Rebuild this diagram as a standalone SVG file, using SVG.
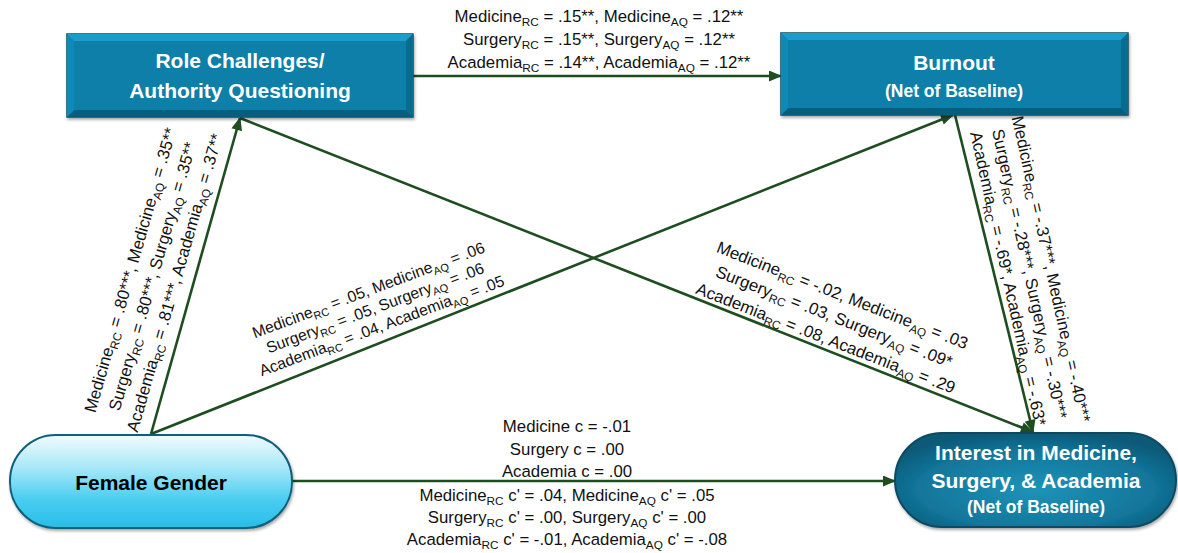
<svg xmlns="http://www.w3.org/2000/svg" width="1178" height="553" viewBox="0 0 1178 553">
<style>
.lbl{font-family:"Liberation Sans",Arial,sans-serif;font-size:16.8px;fill:#111;text-anchor:middle}
.sub{font-size:11.8px}
.sm{font-size:15.8px}
.sm .sub{font-size:11px}
.ttl{font-family:"Liberation Sans",Arial,sans-serif;font-weight:bold;font-size:21px;fill:#fff;text-anchor:middle}
.net{font-size:17.5px}
.edge{stroke:#1e4d20;stroke-width:2.6;fill:none;marker-end:url(#ah)}
</style>
<defs>
<marker id="ah" viewBox="0 0 12 10" refX="11" refY="5" markerWidth="14" markerHeight="11" markerUnits="userSpaceOnUse" orient="auto">
<path d="M0,0 L12,5 L0,10 z" fill="#1e4d20"/>
</marker>
<linearGradient id="fem" x1="0" y1="0" x2="0" y2="1">
<stop offset="0" stop-color="#f2fbfe"/>
<stop offset="0.35" stop-color="#a8e8f8"/>
<stop offset="0.7" stop-color="#48cdf0"/>
<stop offset="1" stop-color="#27bde8"/>
</linearGradient>
<radialGradient id="int" cx="0.5" cy="0.6" r="0.6">
<stop offset="0" stop-color="#1f93b8"/>
<stop offset="0.7" stop-color="#12759a"/>
<stop offset="1" stop-color="#0b5a78"/>
</radialGradient>
<filter id="sh" x="-5%" y="-10%" width="110%" height="125%">
<feDropShadow dx="1" dy="2" stdDeviation="1.5" flood-color="#000" flood-opacity="0.35"/>
</filter>
</defs>

<g id="connectors">
<line class="edge" x1="413" y1="76" x2="781" y2="76"/>
<line class="edge" x1="151" y1="434" x2="240" y2="118"/>
<line class="edge" x1="151" y1="434" x2="953" y2="115"/>
<line class="edge" x1="240" y1="118" x2="1033" y2="432"/>
<line class="edge" x1="955" y1="115" x2="1033" y2="432"/>
<line class="edge" x1="292" y1="481" x2="895" y2="481"/>
</g>

<g id="role">
<g filter="url(#sh)">
<rect x="67" y="34" width="346" height="83" fill="#0a7fa9" stroke="#0c4c62" stroke-width="1.5"/>
</g>
<polygon points="67,34 413,34 406,41 74,41" fill="#1c9ccb"/>
<polygon points="67,117 413,117 406,110 74,110" fill="#055e7e"/>
<polygon points="67,34 74,41 74,110 67,117" fill="#0d8ab6"/>
<polygon points="413,34 406,41 406,110 413,117" fill="#066c90"/>
<text class="ttl" x="240" y="68">Role Challenges/</text>
<text class="ttl" x="240" y="98">Authority Questioning</text>
</g>

<g id="burnout">
<g filter="url(#sh)">
<rect x="781" y="33" width="347" height="82" fill="#0a7fa9" stroke="#0c4c62" stroke-width="1.5"/>
</g>
<polygon points="781,33 1128,33 1121,40 788,40" fill="#1c9ccb"/>
<polygon points="781,115 1128,115 1121,108 788,108" fill="#055e7e"/>
<polygon points="781,33 788,40 788,108 781,115" fill="#0d8ab6"/>
<polygon points="1128,33 1121,40 1121,108 1128,115" fill="#066c90"/>
<text class="ttl" x="954" y="70">Burnout</text>
<text class="ttl net" x="954" y="97">(Net of Baseline)</text>
</g>

<g id="female">
<rect x="10" y="435" width="282" height="93" rx="46" ry="46" fill="url(#fem)" stroke="#0f5f7a" stroke-width="2" filter="url(#sh)"/>
<text class="ttl" x="151" y="490" style="fill:#000">Female Gender</text>
</g>

<g id="interest">
<rect x="895" y="433" width="281" height="94" rx="47" ry="47" fill="url(#int)" stroke="#0a4a60" stroke-width="2" filter="url(#sh)"/>
<text class="ttl" x="1036" y="460">Interest in Medicine,</text>
<text class="ttl" x="1036" y="488">Surgery, &amp; Academia</text>
<text class="ttl net" x="1036" y="513">(Net of Baseline)</text>
</g>

<g id="labels">
<g>
<text class="lbl" x="599" y="22">Medicine<tspan class="sub" dy="4">RC</tspan><tspan dy="-4"> = .15**, Medicine</tspan><tspan class="sub" dy="4">AQ</tspan><tspan dy="-4"> = .12**</tspan></text>
<text class="lbl" x="599" y="45">Surgery<tspan class="sub" dy="4">RC</tspan><tspan dy="-4"> = .15**, Surgery</tspan><tspan class="sub" dy="4">AQ</tspan><tspan dy="-4"> = .12**</tspan></text>
<text class="lbl" x="599" y="68">Academia<tspan class="sub" dy="4">RC</tspan><tspan dy="-4"> = .14**, Academia</tspan><tspan class="sub" dy="4">AQ</tspan><tspan dy="-4"> = .12**</tspan></text>
</g>
<g transform="translate(158,278) rotate(-74)">
<text class="lbl" x="0" y="-23">Medicine<tspan class="sub" dy="4">RC</tspan><tspan dy="-4"> = .80***, Medicine</tspan><tspan class="sub" dy="4">AQ</tspan><tspan dy="-4"> = .35**</tspan></text>
<text class="lbl" x="0" y="0">Surgery<tspan class="sub" dy="4">RC</tspan><tspan dy="-4"> = .80***, Surgery</tspan><tspan class="sub" dy="4">AQ</tspan><tspan dy="-4"> = .35**</tspan></text>
<text class="lbl" x="0" y="23">Academia<tspan class="sub" dy="4">RC</tspan><tspan dy="-4"> = .81***, Academia</tspan><tspan class="sub" dy="4">AQ</tspan><tspan dy="-4"> = .37**</tspan></text>
</g>
<g transform="translate(377,313) rotate(-20.5)">
<text class="lbl sm" x="0" y="-19">Medicine<tspan class="sub" dy="4">RC</tspan><tspan dy="-4"> = .05, Medicine</tspan><tspan class="sub" dy="4">AQ</tspan><tspan dy="-4"> = .06</tspan></text>
<text class="lbl sm" x="0" y="0">Surgery<tspan class="sub" dy="4">RC</tspan><tspan dy="-4"> = .05, Surgery</tspan><tspan class="sub" dy="4">AQ</tspan><tspan dy="-4"> = .06</tspan></text>
<text class="lbl sm" x="0" y="19">Academia<tspan class="sub" dy="4">RC</tspan><tspan dy="-4"> = .04, Academia</tspan><tspan class="sub" dy="4">AQ</tspan><tspan dy="-4"> = .05</tspan></text>
</g>
<g transform="translate(832,322) rotate(21.3)">
<text class="lbl" x="0" y="-23">Medicine<tspan class="sub" dy="4">RC</tspan><tspan dy="-4"> = -.02, Medicine</tspan><tspan class="sub" dy="4">AQ</tspan><tspan dy="-4"> = .03</tspan></text>
<text class="lbl" x="0" y="0">Surgery<tspan class="sub" dy="4">RC</tspan><tspan dy="-4"> = .03, Surgery</tspan><tspan class="sub" dy="4">AQ</tspan><tspan dy="-4"> = .09*</tspan></text>
<text class="lbl" x="0" y="23">Academia<tspan class="sub" dy="4">RC</tspan><tspan dy="-4"> = .08, Academia</tspan><tspan class="sub" dy="4">AQ</tspan><tspan dy="-4"> = .29</tspan></text>
</g>
<g transform="translate(1024,275) rotate(77.5)">
<text class="lbl" x="0" y="-22">Medicine<tspan class="sub" dy="4">RC</tspan><tspan dy="-4"> = -.37***, Medicine</tspan><tspan class="sub" dy="4">AQ</tspan><tspan dy="-4"> = -.40***</tspan></text>
<text class="lbl" x="0" y="0">Surgery<tspan class="sub" dy="4">RC</tspan><tspan dy="-4"> = -.28***, Surgery</tspan><tspan class="sub" dy="4">AQ</tspan><tspan dy="-4"> = -.30***</tspan></text>
<text class="lbl" x="0" y="22">Academia<tspan class="sub" dy="4">RC</tspan><tspan dy="-4"> = -.69*, Academia</tspan><tspan class="sub" dy="4">AQ</tspan><tspan dy="-4"> = -.63*</tspan></text>
</g>
<g>
<text class="lbl" x="567" y="432">Medicine c = -.01</text>
<text class="lbl" x="567" y="455">Surgery c = .00</text>
<text class="lbl" x="567" y="477">Academia c = .00</text>
<text class="lbl" x="567" y="501">Medicine<tspan class="sub" dy="4">RC</tspan><tspan dy="-4"> c' = .04, Medicine</tspan><tspan class="sub" dy="4">AQ</tspan><tspan dy="-4"> c' = .05</tspan></text>
<text class="lbl" x="567" y="523">Surgery<tspan class="sub" dy="4">RC</tspan><tspan dy="-4"> c' = .00, Surgery</tspan><tspan class="sub" dy="4">AQ</tspan><tspan dy="-4"> c' = .00</tspan></text>
<text class="lbl" x="567" y="545">Academia<tspan class="sub" dy="4">RC</tspan><tspan dy="-4"> c' = -.01, Academia</tspan><tspan class="sub" dy="4">AQ</tspan><tspan dy="-4"> c' = -.08</tspan></text>
</g>
</g>
</svg>
